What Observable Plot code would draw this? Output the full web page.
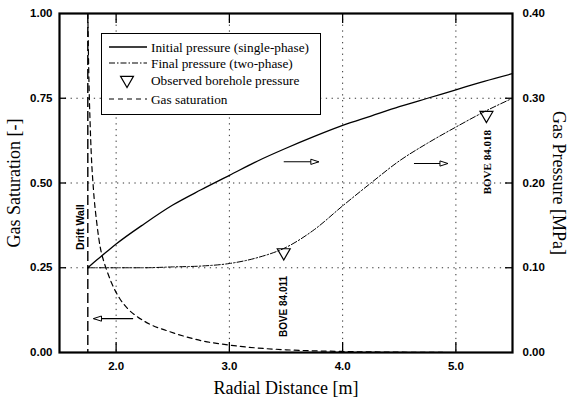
<!DOCTYPE html>
<html><head><meta charset="utf-8">
<script src="https://cdn.jsdelivr.net/npm/d3@7"></script>
<script src="https://cdn.jsdelivr.net/npm/@observablehq/plot@0.6"></script>
<style>
body{margin:0;background:#fff;}
#wrap{position:relative;width:569px;height:409px;}
</style></head><body><div id="wrap"></div>
<script>
// ---- data ----
const distance        = [1.75, 1.80, 1.90, 2.00, 2.25, 2.50, 2.75, 3.00, 3.25, 3.50, 3.75, 4.00, 4.25, 4.50, 4.75, 5.00, 5.25, 5.50];
const initialPressure = [0.100,0.106,0.117,0.128,0.152,0.174,0.192,0.209,0.226,0.241,0.255,0.268,0.279,0.290,0.300,0.310,0.320,0.329];
const finalPressure   = [0.100,0.100,0.100,0.100,0.100,0.101,0.102,0.105,0.112,0.124,0.145,0.173,0.200,0.226,0.247,0.266,0.284,0.300];
const satDistance     = [1.75, 1.76, 1.77, 1.78, 1.80, 1.83, 1.86, 1.89, 1.92, 1.96, 2.03, 2.10, 2.19, 2.30, 2.46, 2.60, 2.75, 3.00, 3.22, 3.50, 4.00, 4.50, 5.00, 5.50];
const gasSaturation   = [1.00, 0.80, 0.68, 0.59, 0.48, 0.38, 0.31, 0.27, 0.24, 0.205,0.16, 0.13, 0.105,0.083,0.063,0.048,0.035,0.022,0.014,0.008,0.003,0.001,0.0,  0.0];
const observedDistance = [3.48, 5.27];
const observedPressure = [0.118, 0.280];
const observedLabels   = ["BOVE 84.011", "BOVE 84.018"];
const driftWall = 1.75;
const xTicks = [2, 3, 4, 5];
const satTicks = [0, 0.25, 0.5, 0.75, 1];
const pressureMax = 0.4;
const legendLabels = ["Initial pressure (single-phase)", "Final pressure (two-phase)", "Observed borehole pressure", "Gas saturation"];
// annotation arrows: x from -> to, level on left (saturation) or right (pressure) axis
const arrowFrom  = [2.15, 3.48, 4.63];
const arrowTo    = [1.80, 3.79, 4.93];
const arrowLevel = [0.10, 0.225, 0.223];
const arrowAxis  = ["sat", "pressure", "pressure"];

// ---- derived tables ----
const toY = p => p / pressureMax;
const initRows = distance.map((d, i) => ({x: d, y: toY(initialPressure[i])}));
const finalRows = distance.map((d, i) => ({x: d, y: toY(finalPressure[i])}));
const satRows = satDistance.map((d, i) => ({x: d, y: gasSaturation[i]}));
const obsRows = observedDistance.map((d, i) => ({x: d, y: toY(observedPressure[i]), label: observedLabels[i]}));
const arrowRows = arrowFrom.map((d, i) => ({x1: d, x2: arrowTo[i], y: arrowAxis[i] === "sat" ? arrowLevel[i] : toY(arrowLevel[i])}));
const innerTicks = satTicks.slice(1, -1);

function openHead(color) {
  const m = document.createElementNS("http://www.w3.org/2000/svg", "marker");
  m.setAttribute("viewBox", "-9 -4 10 8");
  m.setAttribute("markerWidth", 10);
  m.setAttribute("markerHeight", 8);
  m.setAttribute("markerUnits", "userSpaceOnUse");
  m.setAttribute("orient", "auto");
  const p = document.createElementNS("http://www.w3.org/2000/svg", "path");
  p.setAttribute("d", "M0,0L-8,-2.6L-8,2.6Z");
  p.setAttribute("fill", "white");
  p.setAttribute("stroke", color);
  p.setAttribute("stroke-width", 1);
  m.appendChild(p);
  return m;
}

const W = 569, H = 409, mL = 59, mR = 57, mT = 13, mB = 57;
const fw = W - mL - mR, fh = H - mT - mB;
const sans = "Liberation Sans";
const serif = "Liberation Serif";

const chart = Plot.plot({
  width: W, height: H,
  marginLeft: mL, marginRight: mR, marginTop: mT, marginBottom: mB,
  x: {domain: [1.5, 5.5], axis: null},
  y: {domain: [0, 1], axis: null},
  style: {background: "white", color: "black", fontFamily: sans},
  marks: [
    Plot.ruleX(xTicks, {x: d => d, stroke: "#333", strokeWidth: 1, strokeDasharray: "1.3,4.5"}),
    Plot.ruleY(innerTicks, {y: d => d, stroke: "#333", strokeWidth: 1, strokeDasharray: "1.3,4.5"}),
    // inward ticks
    Plot.tickX(xTicks, {x: d => d, insetTop: fh - 10, stroke: "black", strokeWidth: 1.3}),
    Plot.tickX(xTicks, {x: d => d, insetBottom: fh - 10, stroke: "black", strokeWidth: 1.3}),
    Plot.tickY(innerTicks, {y: d => d, insetRight: fw - 7, stroke: "black", strokeWidth: 1.3}),
    Plot.tickY(innerTicks, {y: d => d, insetLeft: fw - 7, stroke: "black", strokeWidth: 1.3}),
    // axes labels
    Plot.axisX(xTicks, {tickSize: 0, tickPadding: 9, tickFormat: d3.format(".1f"), label: null, fontSize: 11.5, fontWeight: "bold", fontFamily: sans}),
    Plot.axisY(satTicks, {anchor: "left", tickSize: 0, tickPadding: 7, tickFormat: d3.format(".2f"), label: null, fontSize: 11.5, fontWeight: "bold", fontFamily: sans}),
    Plot.axisY(satTicks, {anchor: "right", tickSize: 0, tickPadding: 10, tickFormat: d => d3.format(".2f")(d * pressureMax), label: null, fontSize: 11.5, fontWeight: "bold", fontFamily: sans}),
    // drift wall
    Plot.ruleX([driftWall], {stroke: "black", strokeWidth: 1.4, strokeDasharray: "10,4"}),
    // curves
    Plot.line(satRows, {x: "x", y: "y", curve: "monotone-x", stroke: "black", strokeWidth: 1.2, strokeDasharray: "5,4"}),
    Plot.line(finalRows, {x: "x", y: "y", curve: "monotone-x", stroke: "black", strokeWidth: 1, strokeDasharray: "6,2,1.5,2"}),
    Plot.line(initRows, {x: "x", y: "y", curve: "monotone-x", stroke: "black", strokeWidth: 1.3}),
    Plot.dot(obsRows, {x: "x", y: "y", symbol: "triangle", rotate: 180, r: 4.8, stroke: "black", strokeWidth: 1.2, fill: "none"}),
    // arrows
    Plot.link(arrowRows, {x1: "x1", x2: "x2", y1: "y", y2: "y", stroke: "black", strokeWidth: 1.1, markerEnd: openHead}),
    // annotations
    Plot.text(["Drift Wall"], {x: driftWall, y: 0.37, dx: -7, rotate: -90, fontSize: 10.5, fontWeight: "bold", fontFamily: sans}),
    Plot.text([obsRows[0]], {x: "x", y: "y", text: "label", dy: 54, rotate: -90, fontSize: 10, fontWeight: "bold", fontFamily: sans}),
    Plot.text([obsRows[1]], {x: "x", y: "y", text: "label", dy: 47, dx: 1, rotate: -90, fontSize: 11, fontWeight: "bold", fontFamily: serif}),
    // axis titles
    Plot.text(["Radial Distance [m]"], {frameAnchor: "bottom", dy: 36, textAnchor: "middle", lineAnchor: "middle", fontSize: 18, fontFamily: serif}),
    Plot.text(["Gas Saturation [-]"], {frameAnchor: "left", dx: -45, rotate: -90, textAnchor: "middle", lineAnchor: "middle", fontSize: 18, fontFamily: serif}),
    Plot.text(["Gas Pressure [MPa]"], {frameAnchor: "right", dx: 46, rotate: 90, textAnchor: "middle", lineAnchor: "middle", fontSize: 18, fontFamily: serif}),
    Plot.frame({stroke: "black", strokeWidth: 2.2})
  ]
});
const wrap = document.getElementById("wrap");
wrap.appendChild(chart);

// legend drawn inside the same SVG
const lg = d3.select(chart).append("g").attr("aria-label", "legend");
lg.append("rect").attr("x", 101.5).attr("y", 33.5).attr("width", 219).attr("height", 81).attr("fill", "white").attr("stroke", "black").attr("stroke-width", 1);
const rowsY = [47, 63, 80, 99];
const dashes = [null, "6,2,1.5,2", null, "5,4"];
legendLabels.forEach((t, i) => {
  if (i === 2) {
    lg.append("path").attr("d", d3.symbol(d3.symbolTriangle, 72)()).attr("transform", `translate(127,${rowsY[i]}) rotate(180)`).attr("fill", "none").attr("stroke", "black").attr("stroke-width", 1.2);
  } else {
    lg.append("line").attr("x1", 109).attr("x2", 147).attr("y1", rowsY[i]).attr("y2", rowsY[i]).attr("stroke", "black").attr("stroke-width", i === 0 ? 1.3 : 1.1).attr("stroke-dasharray", dashes[i]);
  }
  lg.append("text").attr("x", 151).attr("y", rowsY[i]).attr("dy", "0.35em").attr("text-anchor", "start").attr("font-family", serif).attr("font-size", 13.3).text(t);
});
</script></body></html>
